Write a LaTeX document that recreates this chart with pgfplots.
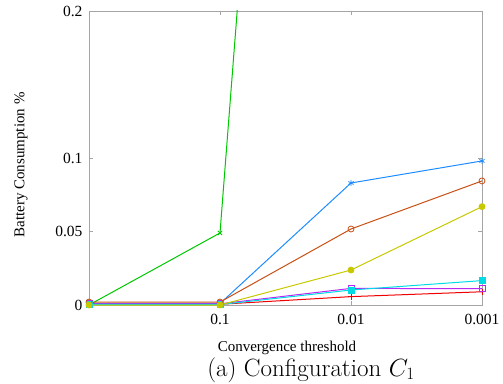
\documentclass[border=0pt]{standalone}
\usepackage{fontspec}
\usepackage{pgfplots}
\pgfplotsset{compat=1.18}
\newfontfamily\tnr{Liberation Serif}
\definecolor{cRed}{RGB}{240,0,0}
\definecolor{cGreen}{RGB}{0,200,0}
\definecolor{cBlue}{RGB}{30,140,255}
\definecolor{cMag}{RGB}{185,40,245}
\definecolor{cCyan}{RGB}{0,220,230}
\definecolor{cBrown}{RGB}{200,80,20}
\definecolor{cYellow}{RGB}{200,200,0}
\definecolor{cAxis}{RGB}{165,165,165}
\begin{document}
\begin{tikzpicture}
\begin{axis}[
  scale only axis,
  width=393pt, height=294pt,
  xmin=0, xmax=3, ymin=0, ymax=0.2,
  xtick={1,2,3}, xticklabels={0.1,0.01,0.001},
  ytick={0,0.05,0.1,0.2},
  yticklabels={0,0.05,0.1,0.2},
  tick align=inside,
  major tick length=4pt,
  axis line style={cAxis, line width=0.8pt},
  tick style={cAxis, line width=0.6pt},
  tick label style={font=\tnr\fontsize{15.5}{17}\selectfont, black},
  /pgf/number format/assume math mode=true,
  xticklabel style={yshift=-6pt},
  yticklabel style={xshift=-3pt},
  every axis plot/.append style={line width=1pt, mark size=3pt},
  clip=true,
]
\addplot[cRed, mark=+, mark options={line width=0.8pt}] coordinates {(0,0.0005) (1,0.0005) (2,0.0057) (3,0.009)};
\addplot[cGreen, mark=x, mark options={line width=0.8pt}] coordinates {(0,0) (1,0.049) (2,1.2) (3,1.5)};
\addplot[cBlue, mark=asterisk, mark options={line width=0.8pt}] coordinates {(0,0.001) (1,0.001) (2,0.083) (3,0.098)};
\addplot[cMag, mark=square, mark options={line width=0.8pt}] coordinates {(0,0.0008) (1,0.0008) (2,0.0113) (3,0.0111)};
\addplot[cCyan, mark=square*, mark options={line width=0.8pt}] coordinates {(0,0.0003) (1,0.0003) (2,0.0102) (3,0.0166)};
\addplot[cBrown, mark=o, mark options={line width=0.8pt}] coordinates {(0,0.002) (1,0.002) (2,0.0517) (3,0.0844)};
\addplot[cYellow, mark=*, mark options={line width=0.8pt}] coordinates {(0,0) (1,0) (2,0.0238) (3,0.0669)};
\end{axis}
\node[rotate=90, font=\tnr\fontsize{15}{17}\selectfont] at (-68pt,140pt) {Battery Consumption \%};
\node[font=\tnr\fontsize{15}{17}\selectfont] at (198pt,-43pt) {Convergence threshold};
\node[font=\fontsize{25}{28}\selectfont] at (222pt,-65pt) {(a) Configuration $C_1$};
\pgfresetboundingbox
\path (-89pt,-78pt) rectangle (414pt,305pt);
\end{tikzpicture}
\end{document}
